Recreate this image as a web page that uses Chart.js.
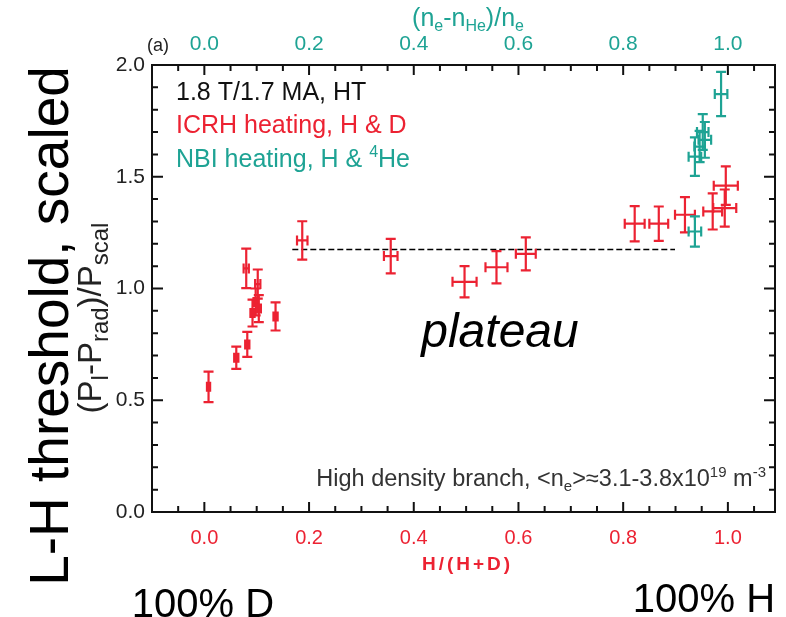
<!DOCTYPE html>
<html lang="en">
<head>
<meta charset="UTF-8">
<title>L-H threshold vs H/(H+D)</title>
<script src="https://cdn.jsdelivr.net/npm/chart.js@4"></script>
<style>
    html, body { margin: 0; padding: 0; background: #fff; }
    #wrap { width: 786px; height: 617px; }
</style>
</head>
<body>
<div id="wrap"><canvas id="c" width="786" height="617"></canvas></div>
<script>
const RED = '#ec2232';
const TEAL = '#1ea394';
const FONT = '"Liberation Sans", Arial, sans-serif';

// ICRH heating, H & D  (x = H/(H+D), bottom axis)
const redX    = [0.008, 0.061, 0.082, 0.080, 0.102, 0.098, 0.092, 0.104, 0.136, 0.187, 0.356, 0.497, 0.558, 0.614, 0.822, 0.868, 0.918, 0.971, 0.994, 0.996];
const redY    = [0.56, 0.69, 0.75, 1.09, 1.02, 0.94, 0.89, 0.91, 0.875, 1.215, 1.145, 1.03, 1.095, 1.155, 1.29, 1.29, 1.33, 1.345, 1.36, 1.46];
const redXErr = [0.003, 0.004, 0.004, 0.005, 0.005, 0.004, 0.004, 0.004, 0.004, 0.010, 0.013, 0.023, 0.021, 0.019, 0.019, 0.018, 0.019, 0.018, 0.022, 0.023];
const redYErr = [0.068, 0.05, 0.056, 0.088, 0.065, 0.06, 0.06, 0.06, 0.063, 0.086, 0.077, 0.07, 0.072, 0.074, 0.079, 0.077, 0.079, 0.081, 0.083, 0.086];

// NBI heating, H & 4He  (x = (ne-nHe)/ne, top axis)
const tealX    = [0.937, 0.937, 0.946, 0.952, 0.956, 0.987];
const tealY    = [1.255, 1.59, 1.635, 1.70, 1.665, 1.87];
const tealXErr = [0.012, 0.012, 0.010, 0.011, 0.012, 0.012];
const tealYErr = [0.068, 0.086, 0.07, 0.08, 0.08, 0.099];

// dashed "plateau" level
const plateauX = [0.168, 0.899];
const plateauY = [1.175, 1.175];

// tick labels
const xTicks = [0.0, 0.2, 0.4, 0.6, 0.8, 1.0];
const yTicks = [0.0, 0.5, 1.0, 1.5, 2.0];

function pts(xs, ys) { return xs.map((x, i) => ({ x: x, y: ys[i] })); }

// draw text made of normal / sub / sup pieces
function richText(ctx, parts, x, y, size, color, align, style, subScale) {
    style = style || '';
    subScale = subScale || 0.65;
    let fonts = parts.map(p => style + (p[1] ? Math.round(size * subScale) : size) + 'px ' + FONT);
    let w = 0;
    parts.forEach((p, i) => { ctx.font = fonts[i]; w += ctx.measureText(p[0]).width; });
    let cx = align === 'center' ? x - w / 2 : align === 'right' ? x - w : x;
    ctx.fillStyle = color;
    ctx.textAlign = 'left';
    ctx.textBaseline = 'alphabetic';
    parts.forEach((p, i) => {
        ctx.font = fonts[i];
        let dy = p[1] === -1 ? size * 0.2 : p[1] === 1 ? -size * 0.4 : 0;
        ctx.fillText(p[0], cx, y + dy);
        cx += ctx.measureText(p[0]).width;
    });
}

// centred text with extra space between letters
function spacedText(ctx, str, x, y, font, color, gap) {
    ctx.font = font;
    ctx.fillStyle = color;
    ctx.textAlign = 'left';
    ctx.textBaseline = 'alphabetic';
    const chars = str.split('');
    let w = chars.reduce((s, ch) => s + ctx.measureText(ch).width, 0) + gap * (chars.length - 1);
    let cx = x - w / 2;
    chars.forEach(ch => { ctx.fillText(ch, cx, y); cx += ctx.measureText(ch).width + gap; });
}

const errorBars = {
    id: 'errorBars',
    afterDatasetsDraw(chart) {
        const ctx = chart.ctx;
        chart.data.datasets.forEach(ds => {
            if (!ds.xErr) return;
            const xs = chart.scales[ds.xAxisID], ys = chart.scales[ds.yAxisID];
            ctx.save();
            ctx.strokeStyle = ds.borderColor;
            ctx.lineWidth = 2.2;
            const c = 5;
            ds.data.forEach((p, j) => {
                const x = xs.getPixelForValue(p.x), y = ys.getPixelForValue(p.y);
                const x0 = xs.getPixelForValue(p.x - ds.xErr[j]), x1 = xs.getPixelForValue(p.x + ds.xErr[j]);
                const y0 = ys.getPixelForValue(p.y - ds.yErr[j]), y1 = ys.getPixelForValue(p.y + ds.yErr[j]);
                ctx.beginPath();
                ctx.moveTo(x0, y); ctx.lineTo(x1, y);
                ctx.moveTo(x, y0); ctx.lineTo(x, y1);
                ctx.moveTo(x - c, y0); ctx.lineTo(x + c, y0);
                ctx.moveTo(x - c, y1); ctx.lineTo(x + c, y1);
                ctx.moveTo(x0, y - c); ctx.lineTo(x0, y + c);
                ctx.moveTo(x1, y - c); ctx.lineTo(x1, y + c);
                ctx.stroke();
            });
            ctx.restore();
        });
    }
};

// box with inward ticks on all four sides
const frame = {
    id: 'frame',
    afterDraw(chart) {
        const ctx = chart.ctx, a = chart.chartArea;
        const sx = chart.scales.x, sy = chart.scales.y;
        ctx.save();
        ctx.strokeStyle = '#111';
        ctx.lineWidth = 2;
        ctx.strokeRect(a.left, a.top, a.right - a.left, a.bottom - a.top);
        ctx.beginPath();
        for (let k = -2; k * 0.05 <= sx.max + 1e-9; k++) {
            const v = k * 0.05;
            if (v < sx.min + 1e-6) continue;
            const px = sx.getPixelForValue(v);
            const len = (k % 4 === 0) ? 10 : 6;
            ctx.moveTo(px, a.bottom); ctx.lineTo(px, a.bottom - len);
            ctx.moveTo(px, a.top); ctx.lineTo(px, a.top + len);
        }
        for (let k = 1; k < 20; k++) {
            const py = sy.getPixelForValue(k * 0.1);
            const len = (k % 5 === 0) ? 11 : 6;
            ctx.moveTo(a.left, py); ctx.lineTo(a.left + len, py);
            ctx.moveTo(a.right, py); ctx.lineTo(a.right - len, py);
        }
        ctx.stroke();
        ctx.restore();
    }
};

const labels = {
    id: 'labels',
    afterDraw(chart) {
        const ctx = chart.ctx;
        ctx.save();
        // panel tag
        richText(ctx, [['(a)', 0]], 147, 51, 18, '#222', 'left');
        // top axis title
        richText(ctx, [['(n', 0], ['e', -1], ['-n', 0], ['He', -1], [')/n', 0], ['e', -1]], 468, 26, 25, TEAL, 'center');
        // bottom axis title
        spacedText(ctx, 'H/(H+D)', 466, 570, 'bold 19px ' + FONT, RED, 3);
        // legend block
        richText(ctx, [['1.8 T/1.7 MA, HT', 0]], 176, 100, 25, '#111', 'left');
        richText(ctx, [['ICRH heating, H & D', 0]], 176, 133, 25, RED, 'left');
        richText(ctx, [['NBI heating, H & ', 0], ['4', 1], ['He', 0]], 176, 167, 25, TEAL, 'left');
        // plateau
        richText(ctx, [['plateau', 0]], 500, 347, 48, '#000', 'center', 'italic ');
        // density note
        richText(ctx, [['High density branch, <n', 0], ['e', -1], ['>\u22483.1-3.8x10', 0], ['19', 1], [' m', 0], ['-3', 1]], 766, 486, 23.5, '#333', 'right');
        // big rotated titles
        ctx.save();
        ctx.translate(68, 326);
        ctx.rotate(-Math.PI / 2);
        richText(ctx, [['L-H threshold, scaled', 0]], 0, 0, 55, '#000', 'center');
        ctx.restore();
        ctx.save();
        ctx.translate(101, 318);
        ctx.rotate(-Math.PI / 2);
        richText(ctx, [['(P', 0], ['l', -1], ['-P', 0], ['rad', -1], [')/P', 0], ['scal', -1]], 0, 0, 33, '#222', 'center', '', 0.72);
        ctx.restore();
        // ends of the H fraction
        richText(ctx, [['100% D', 0]], 203, 617, 40, '#000', 'center');
        richText(ctx, [['100% H', 0]], 704, 612, 40, '#000', 'center');
        ctx.restore();
    }
};

const ctx = document.getElementById('c').getContext('2d');
new Chart(ctx, {
    type: 'scatter',
    data: {
        datasets: [
            {
                label: 'ICRH heating, H & D',
                data: pts(redX, redY),
                xErr: redXErr, yErr: redYErr,
                borderColor: RED, backgroundColor: RED,
                pointRadius: 0,
                xAxisID: 'x', yAxisID: 'y'
            },
            {
                label: 'NBI heating, H & 4He',
                data: pts(tealX, tealY),
                xErr: tealXErr, yErr: tealYErr,
                borderColor: TEAL, backgroundColor: TEAL,
                pointRadius: 0,
                xAxisID: 'x2', yAxisID: 'y'
            },
            {
                label: 'plateau',
                data: pts(plateauX, plateauY),
                showLine: true,
                borderColor: '#000',
                borderWidth: 1.5,
                borderDash: [6, 3],
                pointRadius: 0,
                xAxisID: 'x', yAxisID: 'y'
            }
        ]
    },
    options: {
        responsive: false,
        animation: false,
        devicePixelRatio: 1,
        layout: { padding: { left: 0, right: 11, top: 0, bottom: 0 } },
        plugins: { legend: { display: false }, tooltip: { enabled: false } },
        scales: {
            x: {
                type: 'linear', position: 'bottom', min: -0.1, max: 1.09,
                grid: { display: false }, border: { display: false },
                afterBuildTicks: s => { s.ticks = xTicks.map(v => ({ value: v })); },
                afterFit: s => { s.height = 105; },
                ticks: { color: RED, padding: 6, maxRotation: 0, font: { family: FONT, size: 20 }, callback: v => v.toFixed(1) }
            },
            x2: {
                type: 'linear', position: 'top', min: -0.1, max: 1.09,
                grid: { display: false }, border: { display: false },
                afterBuildTicks: s => { s.ticks = xTicks.map(v => ({ value: v })); },
                afterFit: s => { s.height = 65; },
                ticks: { color: TEAL, padding: 0, maxRotation: 0, font: { family: FONT, size: 21 }, callback: v => v.toFixed(1) }
            },
            y: {
                type: 'linear', position: 'left', min: 0, max: 2,
                grid: { display: false }, border: { display: false },
                afterBuildTicks: s => { s.ticks = yTicks.map(v => ({ value: v })); },
                afterFit: s => { s.width = 152; },
                ticks: { color: '#222', padding: -1, font: { family: FONT, size: 21 }, callback: v => v.toFixed(1) }
            }
        }
    },
    plugins: [errorBars, frame, labels]
});
</script>
</body>
</html>
